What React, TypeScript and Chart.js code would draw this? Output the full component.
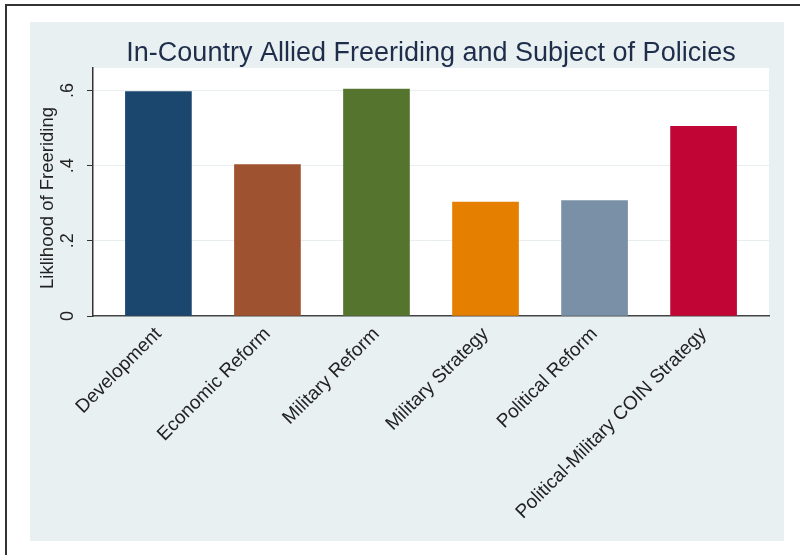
import React, { useEffect, useRef } from 'react';
import { Chart, registerables } from 'chart.js';

Chart.register(...registerables);

const categories = [
  'Development',
  'Economic Reform',
  'Military Reform',
  'Military Strategy',
  'Political Reform',
  'Political-Military COIN Strategy',
];
const values = [0.597, 0.403, 0.604, 0.303, 0.307, 0.505];
const barColors = ['#1b466e', '#9f5230', '#55752f', '#e47f00', '#7a90a7', '#c10534'];
const yTickValues = [0, 0.2, 0.4, 0.6];
const yTickLabels = ['0', '.2', '.4', '.6'];
const chartTitle = 'In-Country Allied Freeriding and Subject of Policies';
const yAxisTitle = 'Liklihood of Freeriding';

const FONT = '"Liberation Sans", Arial, Helvetica, sans-serif';

const decorPlugin = {
  id: 'decor',
  beforeDraw(chart: any) {
    const { ctx, width, height, chartArea } = chart;
    ctx.save();
    ctx.fillStyle = '#ffffff';
    ctx.fillRect(0, 0, width, height);
    ctx.fillStyle = '#e9f0f2';
    ctx.fillRect(30, 22, 754, 519);
    ctx.fillStyle = '#ffffff';
    ctx.fillRect(chartArea.left, chartArea.top, chartArea.right - chartArea.left, chartArea.bottom - chartArea.top);
    ctx.strokeStyle = '#333333';
    ctx.lineWidth = 2;
    ctx.beginPath();
    ctx.moveTo(6, height);
    ctx.lineTo(6, 5);
    ctx.lineTo(width, 5);
    ctx.stroke();
    ctx.restore();
  },
  afterDraw(chart: any) {
    const { ctx, chartArea } = chart;
    const yScale = chart.scales.y;
    ctx.save();
    // main title
    ctx.font = `27px ${FONT}`;
    ctx.fillStyle = '#1e2d4a';
    ctx.textAlign = 'center';
    ctx.textBaseline = 'alphabetic';
    ctx.fillText(chartTitle, (chartArea.left + chartArea.right) / 2, 61);
    // y tick labels (rotated)
    ctx.font = `18px ${FONT}`;
    ctx.fillStyle = '#222222';
    ctx.textAlign = 'center';
    ctx.textBaseline = 'middle';
    yTickValues.forEach((v, i) => {
      const py = yScale.getPixelForValue(v);
      ctx.save();
      ctx.translate(68, py);
      ctx.rotate(-Math.PI / 2);
      ctx.fillText(yTickLabels[i], 0, 0);
      ctx.restore();
    });
    // y axis title
    ctx.font = `18.5px ${FONT}`;
    ctx.save();
    ctx.translate(48, (chartArea.top + chartArea.bottom) / 2 + 6);
    ctx.rotate(-Math.PI / 2);
    ctx.fillText(yAxisTitle, 0, 0);
    ctx.restore();
    ctx.restore();
  },
};

export default function App() {
  const canvasRef = useRef<HTMLCanvasElement | null>(null);

  useEffect(() => {
    const canvas = canvasRef.current;
    if (!canvas) return;
    const chart = new Chart(canvas, {
      type: 'bar',
      data: {
        datasets: [
          {
            data: values.map((v, i) => ({ x: i, y: v })),
            backgroundColor: barColors,
            borderWidth: 0,
            barThickness: 66,
          },
        ],
      },
      options: {
        responsive: false,
        animation: false,
        devicePixelRatio: 1,
        layout: { padding: { left: 0, top: 68, right: 31, bottom: 0 } },
        plugins: {
          legend: { display: false },
          tooltip: { enabled: false },
          title: { display: false },
        },
        scales: {
          x: {
            type: 'linear',
            offset: false,
            min: -0.6,
            max: 5.6,
            afterBuildTicks: (s: any) => {
              s.ticks = categories.map((_, i) => ({ value: i }));
            },
            afterFit: (s: any) => {
              s.height = 555 - 316;
            },
            ticks: {
              autoSkip: false,
              minRotation: 45,
              maxRotation: 45,
              padding: 7,
              color: '#222222',
              font: { family: FONT, size: 19 },
              callback: (v: any) => categories[Number(v)] ?? '',
            },
            grid: { display: false, drawTicks: false, offset: false },
            border: { color: '#444444', width: 1.5 },
          },
          y: {
            type: 'linear',
            min: 0,
            max: 0.66,
            afterBuildTicks: (s: any) => {
              s.ticks = yTickValues.map((v) => ({ value: v }));
            },
            afterFit: (s: any) => {
              s.width = 93;
            },
            ticks: { display: false },
            grid: {
              color: (c: any) => (c.tick && c.tick.value === 0 ? 'rgba(0,0,0,0)' : '#e8eef0'),
              tickColor: '#333333',
              tickLength: 6,
              lineWidth: 1,
            },
            border: { color: '#333333', width: 1.5 },
          },
        },
      },
      plugins: [decorPlugin],
    } as any);
    return () => chart.destroy();
  }, []);

  return (
    <div style={{ position: 'absolute', left: 0, top: 0, width: 800, height: 555 }}>
      <canvas ref={canvasRef} width={800} height={555} style={{ display: 'block' }} />
    </div>
  );
}
